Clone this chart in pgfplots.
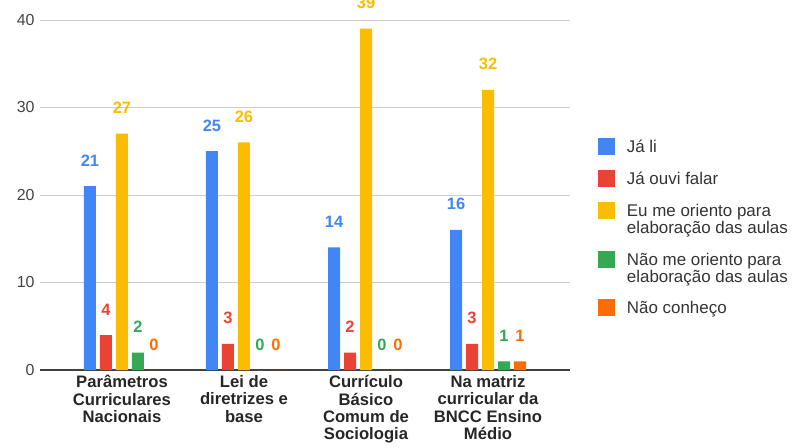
\documentclass[border=0pt]{standalone}
\usepackage{pgfplots}
\pgfplotsset{compat=1.18}
\usepackage{fontspec}
\setmainfont{Liberation Sans}

\definecolor{cBlue}{HTML}{4285F4}
\definecolor{cRed}{HTML}{EA4335}
\definecolor{cYellow}{HTML}{FBBC04}
\definecolor{cGreen}{HTML}{34A853}
\definecolor{cOrange}{HTML}{FF6D01}
\definecolor{tickgray}{HTML}{444444}

\begin{document}
\begin{tikzpicture}
\useasboundingbox (-40bp,-78bp) rectangle (755bp,370bp);
\begin{axis}[
    scale only axis,
    width=530bp, height=350bp,
    xmin=-0.672, xmax=3.672,
    ymin=0, ymax=40,
    ytick={0,10,20,30,40},
    xtick={0,1,2,3},
    xticklabels={Parâmetros\\Curriculares\\Nacionais, Lei de\\diretrizes e\\base, Currículo\\Básico\\Comum de\\Sociologia, Na matriz\\curricular da\\BNCC Ensino\\Médio},
    xticklabel style={align=center, font=\fontsize{16.7}{17.4}\selectfont\bfseries, text=black!85, yshift=-2bp},
    yticklabel style={font=\fontsize{16}{16}\selectfont, text=tickgray, xshift=-2bp},
    /pgf/number format/assume math mode=true,
    major tick length=0pt,
    axis line style={draw=none},
    ymajorgrids,
    major grid style={black!20, line width=0.8pt},
    ybar=4bp,
    bar width=12bp,
    nodes near coords,
    every node near coord/.append style={anchor=base, yshift=20bp, inner sep=0pt, font=\fontsize{16.5}{16.5}\selectfont\bfseries},
    clip=false,
]
\draw[black!75, line width=1.2pt] (rel axis cs:0,0) -- (rel axis cs:1,0);
\addplot[fill=cBlue, draw=none, every node near coord/.append style={text=cBlue}] coordinates {(0,21) (1,25) (2,14) (3,16)};
\addplot[fill=cRed, draw=none, every node near coord/.append style={text=cRed}] coordinates {(0,4) (1,3) (2,2) (3,3)};
\addplot[fill=cYellow, draw=none, every node near coord/.append style={text=cYellow}] coordinates {(0,27) (1,26) (2,39) (3,32)};
\addplot[fill=cGreen, draw=none, every node near coord/.append style={text=cGreen}] coordinates {(0,2) (1,0) (2,0) (3,1)};
\addplot[fill=cOrange, draw=none, every node near coord/.append style={text=cOrange}] coordinates {(0,0) (1,0) (2,0) (3,1)};
\end{axis}
% legend
\begin{scope}[every node/.style={anchor=base west, inner sep=0pt, align=left, font=\fontsize{17}{17}\selectfont, text=black!80}]
\fill[cBlue]   (558bp,214.5bp) rectangle ++(17bp,17bp);
\node at (586.7bp,217.0bp) {Já li};
\fill[cRed]    (558bp,182.5bp) rectangle ++(17bp,17bp);
\node at (586.7bp,185.0bp) {Já ouvi falar};
\fill[cYellow] (558bp,151bp) rectangle ++(17bp,17bp);
\node[anchor=north west] at (586.7bp,166bp) {Eu me oriento para\\elaboração das aulas};
\fill[cGreen]  (558bp,102bp) rectangle ++(17bp,17bp);
\node[anchor=north west] at (586.7bp,117bp) {Não me oriento para\\elaboração das aulas};
\fill[cOrange] (558bp,54bp) rectangle ++(17bp,17bp);
\node at (586.7bp,56.5bp) {Não conheço};
\end{scope}
\end{tikzpicture}
\end{document}
